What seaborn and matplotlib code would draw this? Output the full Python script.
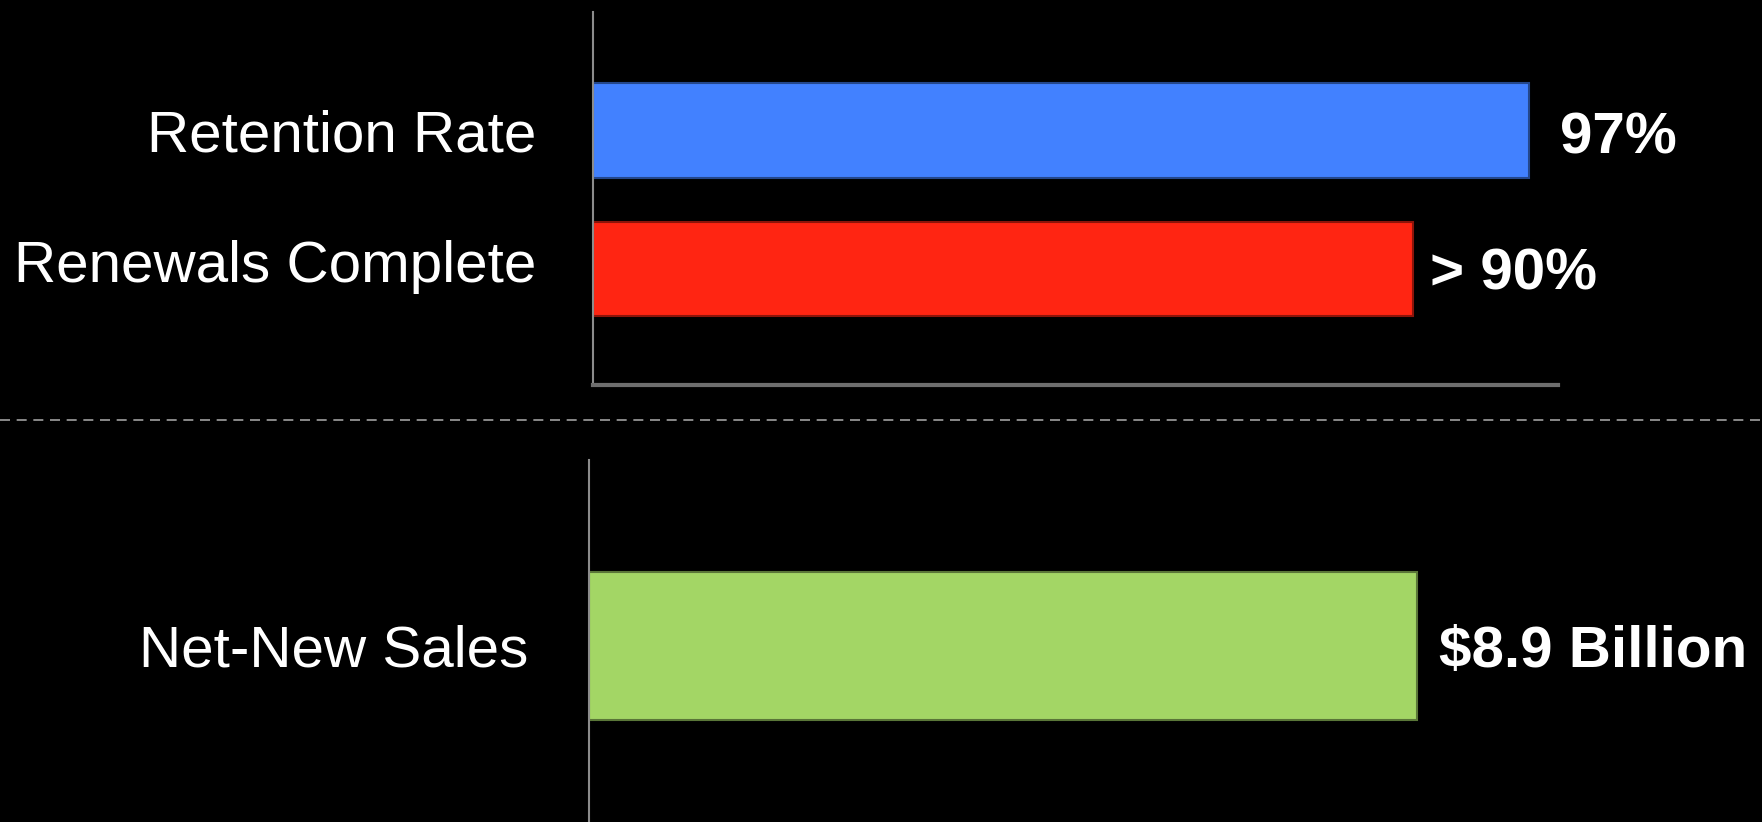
import matplotlib
matplotlib.use("Agg")
import matplotlib.pyplot as plt
import matplotlib.transforms as mtransforms
import seaborn as sns

# top panel: retention / renewals (percent)
top_labels = ["Retention Rate", "Renewals Complete"]
top_values = [97, 85]
top_texts = ["97%", "> 90%"]
top_colors = ["#4281ff", "#ff2512"]

# bottom panel: net-new sales ($ billion)
bottom_labels = ["Net-New Sales"]
bottom_values = [8.9]
bottom_texts = ["$8.9 Billion"]
bottom_colors = ["#a3d665"]


def darker(hex_color, f=0.55):
    r, g, b = matplotlib.colors.to_rgb(hex_color)
    return (r * f, g * f, b * f)


def style_axis(ax, pad):
    ax.set_facecolor("black")
    for side in ["top", "right"]:
        ax.spines[side].set_visible(False)
    ax.spines["left"].set_color("#8c8c8c")
    ax.spines["left"].set_linewidth(1.5)
    ax.spines["bottom"].set_color("#6e6e6e")
    ax.spines["bottom"].set_linewidth(3)
    ax.set_xticks([])
    ax.set_xlabel("")
    ax.set_ylabel("")
    ax.grid(False)
    ax.tick_params(axis="y", which="major", length=0, pad=pad, labelsize=42,
                   labelcolor="white")
    ax.tick_params(axis="y", which="minor", length=5, width=2.5, color="#8c8c8c",
                   direction="out")


def main() -> None:
    sns.set_theme(style="white")
    plt.rcParams["font.family"] = ["Liberation Sans", "DejaVu Sans"]

    fig = plt.figure(figsize=(17.62, 8.22), dpi=100, facecolor="black")

    # ---- top chart
    ax1 = fig.add_axes([593 / 1762, (822 - 385) / 822, 965 / 1762, 373 / 822])
    sns.barplot(x=top_values, y=top_labels, hue=top_labels, palette=top_colors,
                orient="h", width=0.68, saturation=1, legend=False, ax=ax1)
    for patch, c in zip(ax1.patches, top_colors):
        patch.set_edgecolor(darker(c))
        patch.set_linewidth(1.5)
    ax1.set_xlim(0, 100)
    ax1.set_ylim(1.838, -0.856)
    ax1.set_yticks([1.838, -0.856], minor=True)
    style_axis(ax1, pad=41)
    # second category label sits a little above its bar in the original
    lbl = ax1.get_yticklabels()[1]
    lbl.set_transform(lbl.get_transform() + mtransforms.ScaledTranslation(0, 6 / 72, fig.dpi_scale_trans))
    offsets = [(22, -6), (12, -4)]
    for patch, txt, off in zip(ax1.patches, top_texts, offsets):
        ax1.annotate(txt, (patch.get_width(), patch.get_y() + patch.get_height() / 2),
                     xytext=off, textcoords="offset points", ha="left",
                     va="center", color="white", fontsize=42, fontweight="bold")

    # ---- dashed separator
    fig.add_artist(plt.Line2D([0, 1], [(822 - 420) / 822] * 2, transform=fig.transFigure,
                              color="#a0a0a0", lw=1.2, ls=(0, (6, 4))))

    # ---- bottom chart
    ax2 = fig.add_axes([589 / 1762, 0, 965 / 1762, (822 - 460) / 822])
    sns.barplot(x=bottom_values, y=bottom_labels, hue=bottom_labels, palette=bottom_colors,
                orient="h", width=0.8, saturation=1, legend=False, ax=ax2)
    for patch, c in zip(ax2.patches, bottom_colors):
        patch.set_edgecolor(darker(c))
        patch.set_linewidth(1.5)
    ax2.set_xlim(0, 10.37)
    ax2.set_ylim(0.951, -1.005)
    ax2.set_yticks([-1.005], minor=True)
    style_axis(ax2, pad=44)
    ax2.spines["bottom"].set_visible(False)
    for patch, txt in zip(ax2.patches, bottom_texts):
        ax2.annotate(txt, (patch.get_width(), patch.get_y() + patch.get_height() / 2),
                     xytext=(16, -4), textcoords="offset points", ha="left",
                     va="center", color="white", fontsize=42, fontweight="bold")

    fig.savefig("out.png", dpi=100, facecolor="black")
    plt.close(fig)


if __name__ == "__main__":
    main()
